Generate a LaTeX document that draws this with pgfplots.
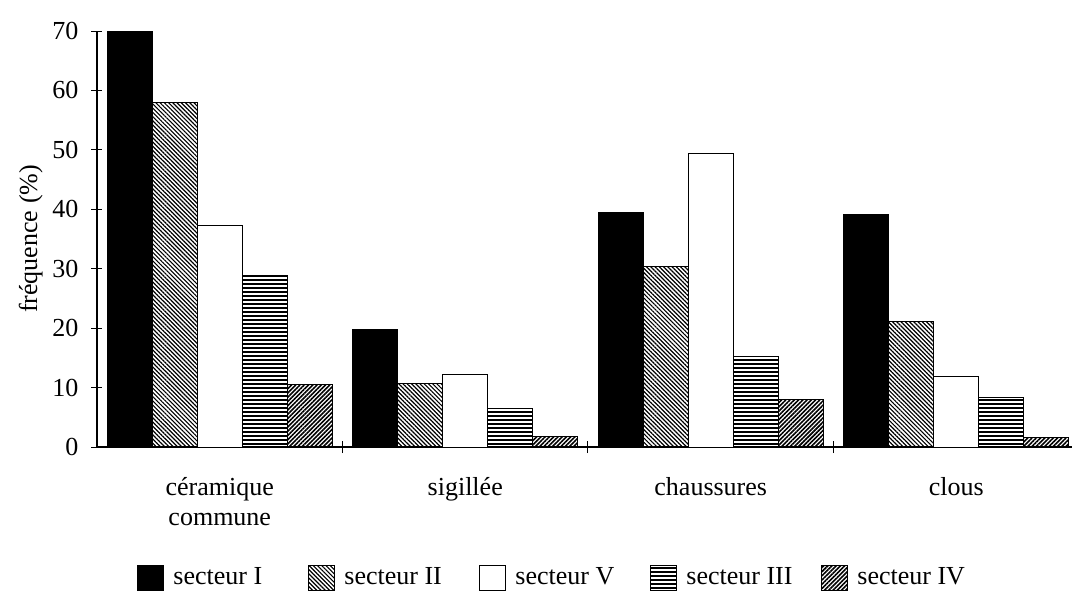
\documentclass[border=0pt]{standalone}
\usepackage{fontspec}
\setmainfont{Liberation Serif}
\usepackage{pgfplots}
\pgfplotsset{compat=1.18}
\usetikzlibrary{patterns.meta}
\begin{document}
\begin{tikzpicture}
\begin{axis}[
  scale only axis, width=487.5pt, height=208pt,
  xmin=-0.5, xmax=3.4715, ymin=0, ymax=70,
  axis lines=left, axis line style={-, line width=0.6pt},
  ybar=0pt, bar width=22.5pt,
  font=\fontsize{13}{15}\selectfont,
  /pgf/number format/assume math mode=true,
  xtick={0,1,2,3},
  xticklabels={céramique\\commune, sigillée, chaussures, clous},
  xticklabel style={align=center, anchor=north, yshift=-9pt},
  yticklabel style={xshift=-3pt},
  minor xtick={0.5,1.5,2.5},
  major x tick style={draw opacity=0},
  ytick={0,10,...,70},
  tick align=center,
  major tick length=5.5pt, minor tick length=6pt,
  tick style={line width=0.5pt, black},
  ylabel={fréquence (\%)},
  ylabel style={at={(axis description cs:-0.068,0.5)}, anchor=center, rotate=0},
  legend columns=5,
  legend style={draw=none, inner sep=0pt, nodes={inner sep=0pt},
    at={(axis description cs:0,0)}, anchor=west, xshift=20pt, yshift=-65.25pt,
    font=\fontsize{13}{15}\selectfont},
  legend image code/.code={\draw[#1] (0pt,-6.25pt) rectangle (13pt,6.25pt);},
  every axis plot/.append style={draw=black, line width=0.5pt},
]
\addplot[fill=black] coordinates {(0,70) (1,19.8) (2,39.4) (3,39.2)};
\addplot[pattern={Lines[angle=-45,distance=1.5pt,line width=0.6pt]}] coordinates {(0,58) (1,10.7) (2,30.4) (3,21.2)};
\addplot[fill=white] coordinates {(0,37.3) (1,12.2) (2,49.4) (3,11.9)};
\addplot[pattern={Lines[angle=0,distance=2pt,line width=1.3pt]}] coordinates {(0,28.8) (1,6.5) (2,15.2) (3,8.4)};
\addplot[pattern={Lines[angle=45,distance=1.5pt,line width=0.8pt]}] coordinates {(0,10.5) (1,1.7) (2,8.0) (3,1.6)};
\addlegendentry{\makebox[72pt][l]{\hspace{4.5pt}secteur I}}
\addlegendentry{\makebox[72pt][l]{\hspace{4.5pt}secteur II}}
\addlegendentry{\makebox[72pt][l]{\hspace{4.5pt}secteur V}}
\addlegendentry{\makebox[72pt][l]{\hspace{4.5pt}secteur III}}
\addlegendentry{\makebox[72pt][l]{\hspace{4.5pt}secteur IV}}
\end{axis}
\pgfresetboundingbox
\path[use as bounding box] (-48.5pt,-74.5pt) rectangle (487.5pt,223.5pt);
\end{tikzpicture}
\end{document}
